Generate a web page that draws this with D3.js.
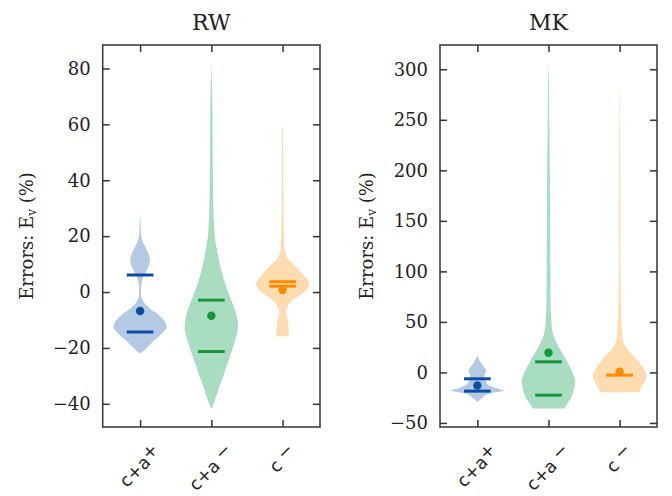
<!DOCTYPE html>
<html>
<head>
<meta charset="utf-8">
<script src="https://cdn.jsdelivr.net/npm/d3@7/dist/d3.min.js"></script>
<style>
  html, body { margin: 0; padding: 0; background: #fff; }
  svg { display: block; }
</style>
</head>
<body>
<svg id="chart" width="672" height="496"></svg>
<script>
// ---------------- data ----------------
const panels = ["RW", "MK"];
const categories = ["c+a+", "c+a −", "c −"];
const catBase = ["c+a", "c+a", "c"];
const catSign = ["+", "−", "−"];

const rwTicks = [-40, -20, 0, 20, 40, 60, 80];
const mkTicks = [-50, 0, 50, 100, 150, 200, 250, 300];
const rwDomain = [-48.3, 88.4];
const mkDomain = [-54, 324];

// violin profiles: [value, relative density (max = 1)]
const rwBlue = [[28.5,0],[24,0.02],[21,0.03],[18,0.1],[16.2,0.19],[13.5,0.32],[11.4,0.37],[9.5,0.33],[8,0.26],[6.1,0.15],[4,0.07],[2,0.04],[-0.5,0.035],[-3,0.1],[-5.3,0.3],[-6.5,0.45],[-8.2,0.7],[-10,0.88],[-11.5,0.97],[-12.4,1.0],[-14,0.9],[-15.5,0.75],[-17.2,0.55],[-19.5,0.3],[-21,0.14],[-22,0]];
const rwGreen = [[82.5,0],[75,0.02],[65,0.04],[50,0.05],[40,0.06],[30,0.075],[24,0.1],[20,0.13],[15,0.21],[12,0.27],[9,0.34],[6,0.42],[3,0.52],[0,0.63],[-3,0.75],[-6,0.87],[-9,0.96],[-12.4,1.0],[-15,0.96],[-17.2,0.9],[-20,0.8],[-23,0.7],[-26.5,0.57],[-30.3,0.44],[-33,0.33],[-36.2,0.22],[-39,0.12],[-42,0]];
const rwOrange = [[61.5,0],[55,0.02],[45,0.025],[35,0.03],[29,0.035],[22,0.045],[17.4,0.06],[15,0.08],[13.8,0.11],[12,0.2],[10.3,0.37],[8.5,0.55],[6.7,0.74],[5,0.88],[3.1,1.0],[1.5,0.95],[0.1,0.82],[-1.5,0.58],[-2.9,0.37],[-4,0.25],[-5.3,0.19],[-6.5,0.14],[-7.6,0.13],[-9,0.16],[-10,0.19],[-12,0.22],[-13.6,0.23],[-15.8,0.23]];

const mkBlue = [[17,0],[13,0.06],[8.9,0.15],[5,0.27],[2.3,0.33],[-1,0.3],[-4.4,0.26],[-7,0.3],[-10.9,0.37],[-13.5,0.5],[-15.8,0.75],[-17.3,0.95],[-18.2,1.0],[-19.2,0.8],[-20.8,0.45],[-22.5,0.3],[-24.2,0.22],[-26.5,0.12],[-29,0]];
const mkGreen = [[307,0],[290,0.015],[250,0.03],[200,0.05],[150,0.06],[100,0.07],[80,0.075],[65,0.08],[55,0.1],[45,0.12],[38,0.17],[32,0.25],[27,0.35],[22,0.45],[17,0.56],[12.2,0.67],[7,0.77],[2.3,0.86],[-2.5,0.94],[-7.6,1.0],[-12.5,0.99],[-17.5,0.95],[-22,0.9],[-27.4,0.8],[-31,0.7],[-35.6,0.6]];
const mkOrange = [[291,0],[250,0.015],[200,0.02],[150,0.025],[100,0.03],[60,0.05],[45,0.08],[38,0.1],[32,0.12],[27,0.2],[22,0.32],[17,0.5],[12.2,0.67],[7,0.82],[2.3,0.93],[-1.5,0.99],[-4.4,1.0],[-8,0.96],[-12.6,0.86],[-16,0.78],[-19.5,0.74]];

// quartile lines and mean dots
const rwLines = [[6.1, -14.3], [-2.9, -21.3], [3.7, 2.1]];
const rwMeans = [-6.8, -8.5, 0.7];
const mkLines = [[-6.3, -18.5], [10.5, -22.5], [-2.7]];
const mkMeans = [-12.9, 19.4, 0.6];

const fillColors = ["#b3c9e4", "#a9ddc2", "#ffdcb0"];
const lineColors = ["#0b4ea2", "#15973a", "#ff8c00"];

// ---------------- drawing ----------------
const svg = d3.select("#chart");
const serif = "DejaVu Serif";
const sans = "DejaVu Sans";

const panelDefs = [
  { title: panels[0], left: 102.7, right: 320, ticks: rwTicks, domain: rwDomain,
    profiles: [rwBlue, rwGreen, rwOrange], lines: rwLines, means: rwMeans, labelX: 33 },
  { title: panels[1], left: 440, right: 657, ticks: mkTicks, domain: mkDomain,
    profiles: [mkBlue, mkGreen, mkOrange], lines: mkLines, means: mkMeans, labelX: 373 }
];
const plotTop = 45, plotBottom = 427;

panelDefs.forEach(p => {
  const g = svg.append("g");
  const x = d3.scaleLinear().domain([-0.525, 2.525]).range([p.left, p.right]);
  const y = d3.scaleLinear().domain(p.domain).range([plotBottom, plotTop]);
  const w = d3.scaleLinear().domain([0, 1]).range([0, 0.375]);

  // violins
  p.profiles.forEach((prof, i) => {
    const area = d3.area()
      .curve(d3.curveMonotoneY)
      .y(d => y(d[0]))
      .x0(d => x(i - w(d[1])))
      .x1(d => x(i + w(d[1])));
    const sorted = prof.slice().sort((a, b) => a[0] - b[0]);
    g.append("path").attr("d", area(sorted)).attr("fill", fillColors[i]).attr("stroke", "none");
  });

  // quartile lines + means
  p.lines.forEach((ls, i) => {
    g.append("circle").attr("cx", x(i)).attr("cy", y(p.means[i])).attr("r", 4.2).attr("fill", lineColors[i]);
    ls.forEach(v => {
      g.append("line")
        .attr("x1", x(i - 0.1875)).attr("x2", x(i + 0.1875))
        .attr("y1", y(v)).attr("y2", y(v))
        .attr("stroke", lineColors[i]).attr("stroke-width", 3);
    });
  });

  // axes with inward ticks on all sides
  const tl = 7;
  const axL = d3.axisLeft(y).tickValues(p.ticks).tickSize(-tl).tickPadding(12)
    .tickFormat(d => (d < 0 ? "\u2212" + Math.abs(d) : String(d)));
  const gl = g.append("g").attr("transform", `translate(${p.left},0)`).call(axL);
  gl.selectAll("text").attr("font-family", serif).attr("font-size", 18).attr("fill", "#222");
  const axR = d3.axisRight(y).tickValues(p.ticks).tickSize(-tl).tickFormat("");
  const gr = g.append("g").attr("transform", `translate(${p.right},0)`).call(axR);
  const axB = d3.axisBottom(x).tickValues([0, 1, 2]).tickSize(-tl).tickFormat("");
  const gb = g.append("g").attr("transform", `translate(0,${plotBottom})`).call(axB);
  const axT = d3.axisTop(x).tickValues([0, 1, 2]).tickSize(-tl).tickFormat("");
  const gt = g.append("g").attr("transform", `translate(0,${plotTop})`).call(axT);
  [gl, gr, gb, gt].forEach(a => {
    a.select(".domain").remove();
    a.selectAll(".tick line").attr("stroke", "#333").attr("stroke-width", 1.5);
  });

  // frame
  g.append("rect").attr("x", p.left).attr("y", plotTop)
    .attr("width", p.right - p.left).attr("height", plotBottom - plotTop)
    .attr("fill", "none").attr("stroke", "#333").attr("stroke-width", 1.5);

  // x tick labels, rotated 45°
  categories.forEach((c, i) => {
    const t = g.append("text")
      .attr("font-family", sans).attr("font-size", 17.5).attr("fill", "#222")
      .attr("text-anchor", "middle").attr("dominant-baseline", "central")
      .attr("transform", `translate(${x(i)},0) rotate(-45)`);
    t.append("tspan").text(catBase[i]);
    t.append("tspan").attr("dx", catSign[i] === "+" ? 0 : 5).attr("dy", -4).text(catSign[i]);
    const bb = t.node().getBoundingClientRect();
    const off = 439 - bb.top;
    t.attr("transform", `translate(${x(i)},${off}) rotate(-45)`);
  });

  // title
  g.append("text").attr("x", (p.left + p.right) / 2).attr("y", 30)
    .attr("text-anchor", "middle").attr("font-family", serif).attr("font-size", 22)
    .attr("fill", "#222").text(p.title);

  // y label
  const yl = g.append("text")
    .attr("transform", `translate(${p.labelX},${(plotTop + plotBottom) / 2}) rotate(-90)`)
    .attr("text-anchor", "middle").attr("font-family", serif).attr("font-size", 18)
    .attr("fill", "#222");
  yl.append("tspan").text("Errors: E");
  yl.append("tspan").attr("font-size", 12).attr("dy", 3).text("v");
  yl.append("tspan").attr("dy", -3).text(" (%)");
});
</script>
</body>
</html>
